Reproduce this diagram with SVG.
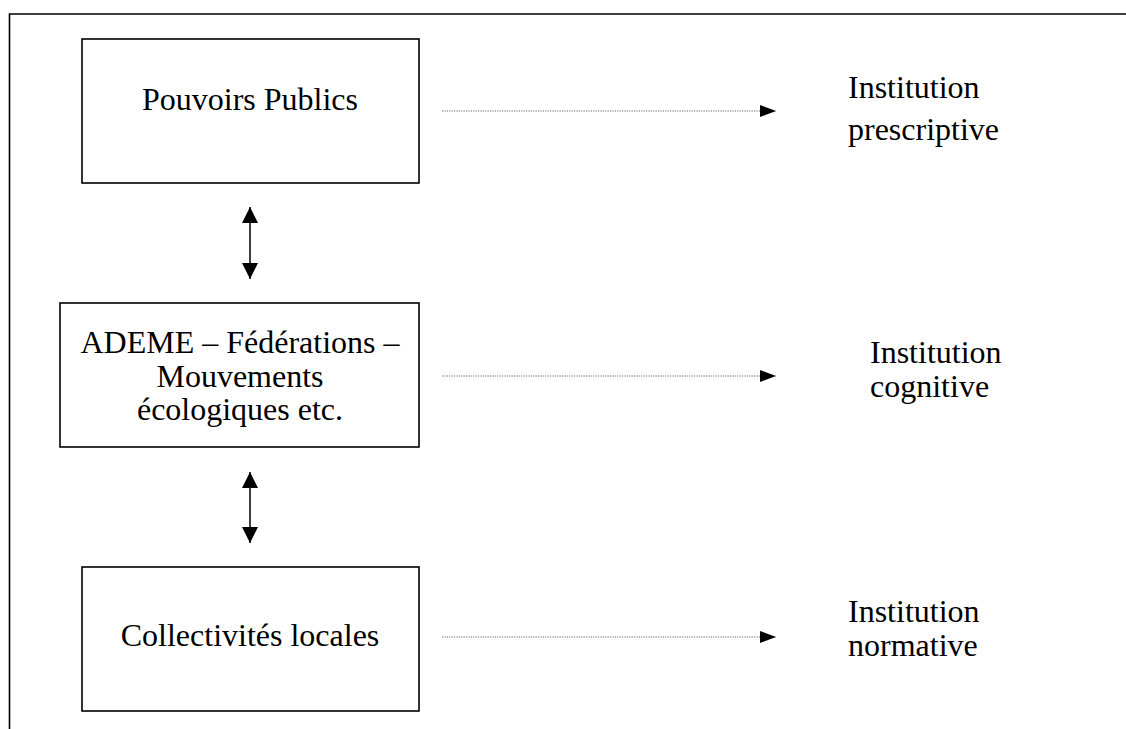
<svg xmlns="http://www.w3.org/2000/svg" width="1126" height="729" viewBox="0 0 1126 729">
<style>
.box{fill:#fff;stroke:#000;stroke-width:1.6}
.t{font-family:"Liberation Serif","Times New Roman",serif;font-size:32px;fill:#000}
.c{text-anchor:middle}
.dot{stroke:#666;stroke-width:1;stroke-dasharray:1.2 1.2;fill:none}
.solid{stroke:#000;stroke-width:1.5;fill:none}
</style>
<defs>
<marker id="ah" markerWidth="16" markerHeight="12" refX="16" refY="6" orient="auto" markerUnits="userSpaceOnUse">
<path d="M0,0 L16,6 L0,12 Z" fill="#000"/>
</marker>
<marker id="dh" markerWidth="16" markerHeight="16" refX="16" refY="8" orient="auto-start-reverse" markerUnits="userSpaceOnUse">
<path d="M0,0 L16,8 L0,16 Z" fill="#000"/>
</marker>
</defs>
<g id="frame">
<path d="M9.5,729 L9.5,14 L1126,14" fill="none" stroke="#000" stroke-width="1.6"/>
</g>
<g id="node-pouvoirs">
<rect class="box" x="82" y="39" width="337" height="144"/>
<text class="t c" x="250" y="110">Pouvoirs Publics</text>
</g>
<g id="node-ademe">
<rect class="box" x="60" y="303" width="359" height="144"/>
<text class="t c" x="240" y="353">ADEME – Fédérations –</text>
<text class="t c" x="240" y="387">Mouvements</text>
<text class="t c" x="240" y="420">écologiques etc.</text>
</g>
<g id="node-collectivites">
<rect class="box" x="82" y="567" width="337" height="144"/>
<text class="t c" x="250" y="646">Collectivités locales</text>
</g>
<g id="label-prescriptive">
<text class="t" x="848" y="98">Institution</text>
<text class="t" x="848" y="140">prescriptive</text>
</g>
<g id="label-cognitive">
<text class="t" x="870" y="363">Institution</text>
<text class="t" x="870" y="397">cognitive</text>
</g>
<g id="label-normative">
<text class="t" x="848" y="622">Institution</text>
<text class="t" x="848" y="656">normative</text>
</g>
<g id="connectors">
<line class="dot" x1="442" y1="111" x2="776" y2="111" marker-end="url(#ah)"/>
<line class="dot" x1="442" y1="376" x2="776" y2="376" marker-end="url(#ah)"/>
<line class="dot" x1="442" y1="637" x2="776" y2="637" marker-end="url(#ah)"/>
<line class="solid" x1="250" y1="207" x2="250" y2="279" marker-start="url(#dh)" marker-end="url(#dh)"/>
<line class="solid" x1="250" y1="472" x2="250" y2="543" marker-start="url(#dh)" marker-end="url(#dh)"/>
</g>
</svg>
